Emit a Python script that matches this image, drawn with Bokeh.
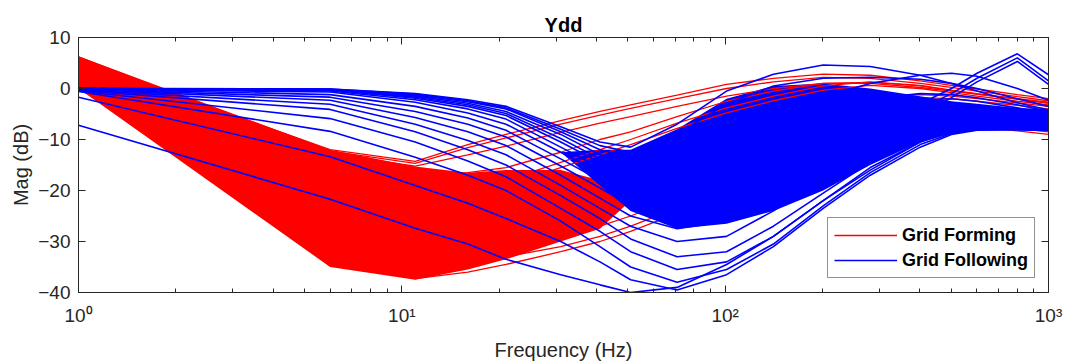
from bokeh.plotting import figure
from bokeh.models import (LogAxis, LinearAxis, Range1d, Legend, LegendItem, FixedTicker)
from bokeh.embed import file_html
from bokeh.resources import INLINE

# ---------------- data ----------------
freq = [1, 6, 11, 16, 21, 31, 41, 51, 71, 101, 141, 201, 281, 401, 501, 601, 801, 1000]

# Grid Forming curves (dB), upper group then lower group
gfm_01 = [5.5, -12.0, -14.3, -11.0, -9.0, -6.3, -4.5, -3.2, -1.3, 0.8, 2.0, 2.8, 2.6, 1.5, 0.6, -0.1, -1.2, -2.0]
gfm_02 = [5.0, -12.3, -14.7, -11.6, -9.7, -7.0, -5.2, -3.9, -2.0, 0.0, 1.3, 2.2, 2.0, 1.0, 0.2, -0.5, -1.6, -2.4]
gfm_03 = [6.2, -12.8, -15.2, -13.0, -11.3, -8.6, -6.8, -5.5, -3.5, -1.5, 0.0, 1.0, 1.0, 0.2, -0.5, -1.1, -2.1, -2.9]
gfm_04 = [4.5, -14.5, -17.5, -16.5, -15.5, -12.5, -10.0, -8.5, -5.5, -2.5, -0.5, 1.0, 1.2, 0.5, -0.4, -1.1, -2.1, -2.8]
gfm_05 = [4.0, -16.0, -20.0, -19.5, -18.0, -14.5, -12.0, -10.0, -6.8, -3.8, -1.5, 0.5, 1.3, 0.6, -0.3, -1.0, -2.0, -2.7]
gfm_06 = [3.5, -17.0, -21.0, -20.5, -19.0, -15.5, -13.0, -11.0, -7.8, -4.8, -2.4, -0.3, 0.6, 0.0, -0.8, -1.5, -2.5, -3.2]
gfm_07 = [3.0, -19.0, -24.0, -24.0, -22.5, -20.0, -17.5, -15.5, -12.0, -7.5, -4.5, -2.5, -1.5, -1.2, -1.5, -2.0, -2.8, -3.5]
gfm_08 = [2.5, -20.0, -25.0, -25.0, -24.0, -21.5, -19.0, -17.0, -13.5, -9.0, -5.8, -3.3, -2.2, -1.8, -2.0, -2.5, -3.3, -4.0]
gfm_09 = [2.0, -22.0, -27.0, -27.0, -26.0, -24.0, -22.0, -20.0, -16.5, -12.5, -9.0, -5.5, -3.8, -3.0, -3.2, -3.5, -4.2, -5.0]
gfm_10 = [1.5, -25.0, -29.0, -29.5, -28.5, -26.5, -24.5, -22.5, -19.0, -15.0, -11.5, -8.0, -5.8, -4.5, -4.3, -4.6, -5.3, -6.0]
gfm_11 = [1.0, -28.0, -32.0, -32.0, -31.0, -29.0, -27.0, -25.0, -21.5, -17.5, -14.0, -10.5, -7.8, -6.0, -5.7, -6.0, -6.8, -7.5]
gfm_12 = [0.5, -31.0, -34.5, -34.0, -33.0, -31.0, -29.0, -27.0, -23.5, -19.5, -16.0, -12.5, -9.5, -7.2, -6.8, -7.0, -7.8, -8.5]
gfm_13 = [0.2, -34.5, -37.3, -36.0, -34.5, -32.0, -30.0, -28.0, -24.5, -20.5, -17.0, -13.5, -10.2, -7.8, -7.2, -7.5, -8.3, -9.0]

# dense Grid Forming band (low frequencies)
gfm_band_freq = [1, 6, 11, 16, 21, 31, 41, 51]
gfm_band_hi = [6.3, -12.0, -15.3, -16.5, -16.0, -16.0, -18.0, -22.0]
gfm_band_lo = [0.0, -35.0, -37.5, -35.5, -33.5, -30.0, -27.5, -22.0]

# Grid Following curves (dB)
gfl_01 = [0.0, -0.1, -1.0, -2.2, -3.5, -7.5, -10.5, -11.5, -7.0, -0.5, 2.8, 4.6, 4.3, 2.6, 1.0, -0.5, -2.8, -4.2]
gfl_02 = [0.0, -0.1, -1.1, -2.4, -3.8, -8.0, -11.2, -12.5, -9.0, -3.0, 0.5, 2.0, 2.2, 1.8, 1.0, 0.0, -2.0, -3.5]
gfl_03 = [0.0, -0.2, -1.3, -2.6, -4.0, -8.5, -12.0, -13.5, -14.0, -10.0, -5.5, -1.5, 1.0, 2.6, 3.0, 2.4, 0.0, -2.3]
gfl_04 = [0.0, -0.2, -1.5, -2.9, -4.5, -9.0, -13.0, -15.0, -17.5, -19.0, -16.5, -12.5, -8.0, -3.0, 0.0, 3.0, 6.8, 2.7]
gfl_05 = [0.0, -0.3, -1.7, -3.2, -4.9, -9.8, -13.8, -16.0, -18.5, -20.0, -17.5, -13.5, -9.0, -4.0, -1.0, 2.0, 6.0, 1.5]
gfl_06 = [0.0, -0.3, -1.9, -3.5, -5.3, -10.5, -14.5, -17.0, -19.5, -21.0, -18.5, -14.5, -10.0, -5.0, -1.8, 1.3, 5.3, 0.8]
gfl_07 = [0.0, -0.5, -2.2, -4.0, -6.0, -11.5, -15.5, -18.0, -17.5, -13.5, -8.5, -4.5, -2.0, -1.0, -1.2, -1.8, -3.2, -4.5]
gfl_08 = [-0.1, -0.7, -2.7, -4.8, -7.0, -12.5, -16.5, -19.0, -20.0, -17.0, -12.0, -7.5, -4.0, -2.3, -2.0, -2.5, -3.8, -5.0]
gfl_09 = [-0.1, -1.2, -3.5, -5.8, -8.2, -13.8, -18.0, -21.0, -22.5, -20.0, -15.0, -10.5, -6.5, -3.8, -3.2, -3.3, -4.3, -5.5]
gfl_10 = [-0.2, -1.7, -4.5, -7.0, -9.5, -15.2, -19.5, -23.0, -25.0, -23.0, -18.0, -13.0, -8.5, -5.0, -4.2, -4.2, -5.0, -6.0]
gfl_11 = [-0.2, -2.3, -5.7, -8.5, -11.2, -17.0, -21.5, -25.0, -27.5, -26.0, -21.0, -15.5, -10.5, -6.5, -5.3, -5.0, -5.5, -6.5]
gfl_12 = [-0.3, -3.1, -7.0, -10.2, -13.0, -19.0, -23.5, -27.0, -30.0, -29.0, -24.0, -18.0, -12.5, -8.0, -6.5, -6.0, -6.2, -7.0]
gfl_13 = [-0.4, -4.1, -8.5, -12.0, -15.0, -21.0, -25.5, -29.5, -33.0, -32.0, -27.0, -20.5, -14.5, -9.5, -7.5, -7.0, -7.0, -7.5]
gfl_14 = [-0.5, -5.9, -10.5, -14.2, -17.3, -23.5, -28.0, -32.0, -35.5, -34.0, -29.0, -22.0, -16.0, -10.5, -8.3, -7.6, -7.5, -7.9]
gfl_15 = [-0.6, -8.4, -13.5, -17.0, -20.0, -26.0, -31.0, -35.0, -38.0, -35.5, -30.5, -23.0, -16.5, -11.0, -8.8, -8.0, -7.8, -8.1]
gfl_16 = [-1.7, -13.4, -19.0, -22.5, -25.5, -30.0, -34.0, -37.5, -39.5, -36.5, -31.0, -23.5, -17.0, -11.5, -9.0, -8.2, -8.0, -8.2]
gfl_17 = [-7.2, -21.7, -27.4, -30.5, -33.5, -36.5, -38.5, -40.0, -39.0, -34.5, -29.0, -22.0, -15.5, -10.5, -8.6, -8.0, -7.9, -8.2]

# dense Grid Following band (mid / high frequencies)
gfl_band_freq = [31, 41, 51, 71, 101, 141, 201, 281, 401, 501, 601, 801, 1000]
gfl_band_hi = [-12.5, -12.0, -12.0, -8.0, -2.0, 0.5, 1.0, 0.0, -1.5, -2.5, -3.0, -3.8, -4.0]
gfl_band_lo = [-12.5, -19.0, -24.0, -27.5, -26.5, -24.0, -20.0, -15.0, -10.5, -8.8, -8.3, -8.3, -8.4]

gfm_upper = [gfm_01, gfm_02, gfm_03, gfm_04, gfm_05, gfm_06]
gfm_lower = [gfm_07, gfm_08, gfm_09, gfm_10, gfm_11, gfm_12, gfm_13]
gfl_curves = [gfl_01, gfl_02, gfl_03, gfl_04, gfl_05, gfl_06, gfl_07, gfl_08, gfl_09, gfl_10,
              gfl_11, gfl_12, gfl_13, gfl_14, gfl_15, gfl_16, gfl_17]

# ---------------- figure ----------------
FONT = "Liberation Sans"
AX = "#262626"
RED = "#FF0000"
BLUE = "#0000FF"

p = figure(width=1078, height=363, x_axis_type="log",
           x_range=Range1d(1, 1000), y_range=Range1d(-40, 10),
           output_backend="svg", toolbar_location=None, title="Ydd",
           min_border_left=78, min_border_right=30, min_border_top=37, min_border_bottom=70)
p.background_fill_color = "white"
p.border_fill_color = "white"
p.outline_line_color = AX
p.outline_line_width = 1
p.xgrid.visible = False
p.ygrid.visible = False
p.title.align = "center"
p.title.text_font = FONT
p.title.text_font_style = "bold"
p.title.text_font_size = "20px"
p.title.text_color = "black"
p.title.standoff = 4

p.varea(x=gfm_band_freq, y1=gfm_band_lo, y2=gfm_band_hi, fill_color=RED)
red_lo = [p.line(freq, c, line_color=RED, line_width=1.3) for c in gfm_lower]
p.varea(x=gfl_band_freq, y1=gfl_band_lo, y2=gfl_band_hi, fill_color=BLUE)
red_hi = [p.line(freq, c, line_color=RED, line_width=1.3) for c in gfm_upper]
blue_renderers = [p.line(freq, c, line_color=BLUE, line_width=1.6) for c in gfl_curves]

minor_x = [2, 3, 4, 5, 6, 7, 8, 9, 20, 30, 40, 50, 60, 70, 80, 90,
           200, 300, 400, 500, 600, 700, 800, 900]
xt = FixedTicker(ticks=[1, 10, 100, 1000], minor_ticks=minor_x)
yt = FixedTicker(ticks=[-40, -30, -20, -10, 0, 10])


def style(ax):
    ax.axis_line_color = AX
    ax.major_tick_line_color = AX
    ax.minor_tick_line_color = AX
    ax.major_tick_in = 7
    ax.major_tick_out = 0
    ax.minor_tick_in = 4
    ax.minor_tick_out = 0
    ax.major_label_text_font = FONT
    ax.major_label_text_color = AX
    ax.major_label_text_font_size = "19px"
    ax.axis_label_text_font = FONT
    ax.axis_label_text_font_style = "normal"
    ax.axis_label_text_color = AX
    ax.axis_label_text_font_size = "20px"


xa = p.xaxis[0]
xa.ticker = xt
xa.major_label_overrides = {1: "10\u2070", 10: "10\u00b9", 100: "10\u00b2", 1000: "10\u00b3"}
style(xa)
xa.major_label_standoff = 12
xa.axis_label = "Frequency (Hz)"
xa.axis_label_standoff = 10

ya = p.yaxis[0]
ya.ticker = yt
style(ya)
ya.minor_tick_in = 0
ya.major_label_standoff = 8
ya.axis_label = "Mag (dB)"
ya.axis_label_standoff = 3

top = LogAxis(ticker=xt)
style(top)
top.major_label_overrides = {1: "", 10: "", 100: "", 1000: ""}
top.major_label_text_font_size = "1px"
top.major_label_standoff = 0
p.add_layout(top, "above")
right = LinearAxis(ticker=yt)
style(right)
right.major_label_overrides = {-40: "", -30: "", -20: "", -10: "", 0: "", 10: ""}
right.major_label_text_font_size = "1px"
right.minor_tick_in = 0
right.major_label_standoff = 0
p.add_layout(right, "right")

legend = Legend(items=[LegendItem(label="Grid Forming", renderers=[red_hi[0]]),
                       LegendItem(label="Grid Following", renderers=[blue_renderers[0]])],
                location=(749, 14))
legend.glyph_width = 63
legend.glyph_height = 22
legend.label_height = 22
legend.spacing = 3
legend.padding = 6
legend.margin = 0
legend.label_standoff = 5
legend.label_text_font = FONT
legend.label_text_font_style = "bold"
legend.label_text_font_size = "18px"
legend.label_text_color = "black"
legend.border_line_color = AX
legend.border_line_width = 1
legend.background_fill_alpha = 1
p.add_layout(legend, "center")

open("out.html", "w").write(file_html(p, INLINE))
